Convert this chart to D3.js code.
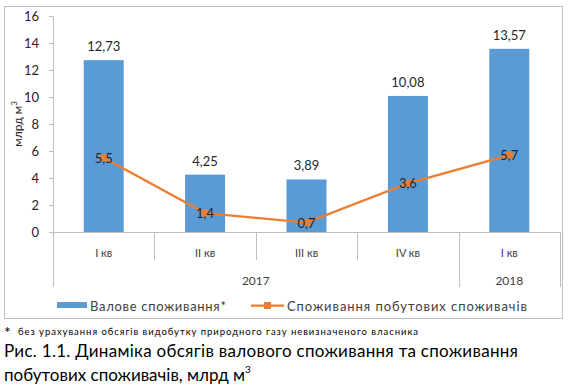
<!DOCTYPE html>
<meta charset="utf-8">
<style>
body{margin:0;background:#fff;}
svg text{font-family:Lato,"Open Sans",sans-serif;fill:#404040;}
</style>
<svg id="chart" width="569" height="387"></svg>
<script src="https://cdn.jsdelivr.net/npm/d3@7"></script>
<script>
// quarters, years, and the two series
const quarters = ['I кв', 'II кв', 'III кв', 'IV кв', 'I кв ']
const years = [{label: '2017', from: 0, to: 3}, {label: '2018', from: 4, to: 4}]
const grossValues = [12.73, 4.25, 3.89, 10.08, 13.57]
const householdValues = [5.5, 1.4, 0.7, 3.6, 5.7]
const yTicks = [0, 2, 4, 6, 8, 10, 12, 14, 16]

const fmt = v => String(v).replace('.', ',')
const svg = d3.select('#chart')

// outer frame
svg.append('rect').attr('x', 4.5).attr('y', 6.5).attr('width', 558).attr('height', 312)
  .attr('fill', 'none').attr('stroke', '#bfbfbf')

let x = d3.scaleBand().domain(d3.range(quarters.length)).range([53, 560]).padding(0)
let y = d3.scaleLinear().domain([0, 16]).range([232, 16])

// y axis
let yAxis = svg.append('g').attr('transform', 'translate(53,0)')
  .call(d3.axisLeft(y).tickValues(yTicks).tickSize(4).tickPadding(10))
yAxis.select('.domain').attr('stroke', '#bfbfbf')
yAxis.selectAll('line').attr('stroke', '#bfbfbf')
yAxis.selectAll('text').style('font-size', '13px').style('fill', '#262626')

svg.append('text').attr('transform', 'translate(22,124) rotate(-90)')
  .attr('text-anchor', 'middle').style('font-size', '12px').style('fill', '#262626')
  .html('млрд м<tspan dy="-5" style="font-size:8px">3</tspan>')

// x axis with two-level categories
svg.append('line').attr('x1', 53).attr('x2', 560).attr('y1', 232.5).attr('y2', 232.5).attr('stroke', '#bfbfbf')
let boundaries = d3.range(quarters.length + 1)
let longLines = new Set([0, ...years.map(d => d.to + 1)])
svg.selectAll('line.div').data(boundaries).enter().append('line')
  .attr('class', 'div')
  .attr('x1', i => Math.round(i < quarters.length ? x(i) : x.range()[1]) + 0.5)
  .attr('x2', i => Math.round(i < quarters.length ? x(i) : x.range()[1]) + 0.5)
  .attr('y1', 232).attr('y2', i => longLines.has(i) ? 287 : 260)
  .attr('stroke', '#bfbfbf')

svg.selectAll('text.q').data(quarters).enter().append('text')
  .attr('class', 'q')
  .attr('x', (d, i) => x(i) + x.bandwidth() / 2).attr('y', 257)
  .attr('text-anchor', 'middle').style('font-size', '11px')
  .text(d => d.trim())

svg.selectAll('text.yr').data(years).enter().append('text')
  .attr('class', 'yr')
  .attr('x', d => (x(d.from) + x(d.to) + x.bandwidth()) / 2).attr('y', 285)
  .attr('text-anchor', 'middle').style('font-size', '12px')
  .text(d => d.label)

// bars
let barW = 40
svg.selectAll('rect.bar').data(grossValues).enter().append('rect')
  .attr('class', 'bar')
  .attr('x', (d, i) => x(i) + x.bandwidth() / 2 - barW / 2)
  .attr('width', barW)
  .attr('y', d => y(d)).attr('height', d => y(0) - y(d))
  .attr('fill', '#5b9bd5')

svg.selectAll('text.barlab').data(grossValues).enter().append('text')
  .attr('class', 'barlab')
  .attr('x', (d, i) => x(i) + x.bandwidth() / 2).attr('y', d => y(d) - 9)
  .attr('text-anchor', 'middle').style('font-size', '13px').style('fill', '#262626')
  .text(fmt)

// household line
let cx = i => x(i) + x.bandwidth() / 2
svg.append('path').datum(householdValues)
  .attr('d', d3.line().x((d, i) => cx(i)).y(d => y(d)))
  .attr('fill', 'none').attr('stroke', '#ed7d31').attr('stroke-width', 2.25)

svg.selectAll('rect.mk').data(householdValues).enter().append('rect')
  .attr('class', 'mk')
  .attr('x', (d, i) => cx(i) - 3.5).attr('y', d => y(d) - 3.5)
  .attr('width', 7).attr('height', 7).attr('fill', '#ed7d31')

svg.selectAll('text.lnlab').data(householdValues).enter().append('text')
  .attr('class', 'lnlab')
  .attr('x', (d, i) => cx(i)).attr('y', d => y(d) + 5)
  .attr('text-anchor', 'middle').style('font-size', '13px').style('fill', '#262626')
  .text(fmt)

// legend
svg.append('rect').attr('x', 57).attr('y', 302).attr('width', 30).attr('height', 6).attr('fill', '#5b9bd5')
svg.append('text').attr('x', 90).attr('y', 311).style('font-size', '13px')
  .attr('textLength', 136).attr('lengthAdjust', 'spacing').text('Валове споживання*')
svg.append('line').attr('x1', 251).attr('x2', 284).attr('y1', 305.5).attr('y2', 305.5)
  .attr('stroke', '#ed7d31').attr('stroke-width', 2.25)
svg.append('rect').attr('x', 264).attr('y', 302).attr('width', 7).attr('height', 7).attr('fill', '#ed7d31')
svg.append('text').attr('x', 287).attr('y', 311).style('font-size', '13px')
  .attr('textLength', 240).attr('lengthAdjust', 'spacing').text('Споживання побутових споживачів')

// footnote and caption
svg.append('text').attr('x', 4).attr('y', 338).style('font-size', '16px').style('fill', '#000').text('*')
svg.append('text').attr('x', 18).attr('y', 335).style('font-size', '9.5px').style('fill', '#000')
  .attr('textLength', 400).attr('lengthAdjust', 'spacing')
  .text('без урахування обсягів видобутку природного газу невизначеного власника')
svg.append('text').attr('x', 4).attr('y', 357).style('font-size', '17px').style('fill', '#000')
  .attr('textLength', 514).attr('lengthAdjust', 'spacing')
  .text('Рис. 1.1. Динаміка обсягів валового споживання та споживання')
svg.append('text').attr('x', 4).attr('y', 381).style('font-size', '17px').style('fill', '#000')
  .html('побутових споживачів, млрд м<tspan dy="-8" style="font-size:10px">3</tspan>')
</script>
